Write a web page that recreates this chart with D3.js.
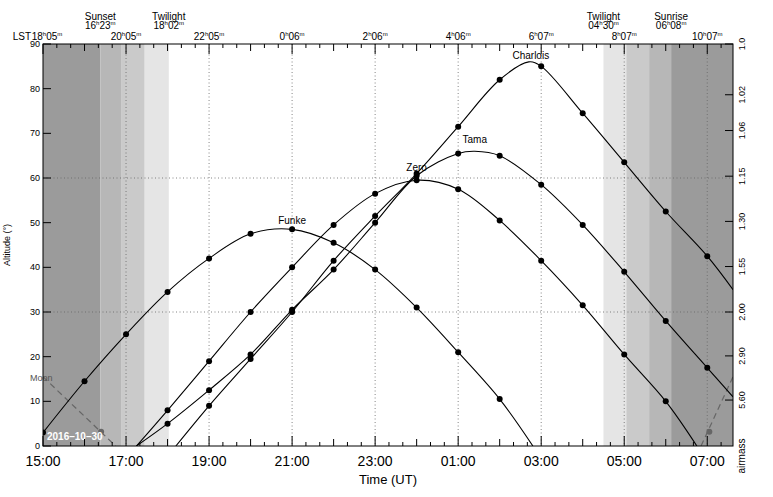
<!DOCTYPE html>
<html><head><meta charset="utf-8">
<script src="https://cdn.jsdelivr.net/npm/d3@7"></script>
<style>body{margin:0;background:#fff}svg{font-family:"Liberation Sans",Arial,sans-serif}</style>
</head><body><div id="viz"></div>
<script>
// hours since 15:00 UT, altitude in degrees
const charlois = [[3.2,0],[4,9],[5,19.5],[6,30],[7,41.5],[8,51.5],[9,61],[10,71.5],[11,82],[11.7,86],[12,85],[13,74.5],[14,63.5],[15,52.5],[16,42.5],[16.62,35]];
const tama = [[2.25,0],[3,5],[4,12.5],[5,20.5],[6,30.5],[7,39.5],[8,50],[9,60.5],[10,65.5],[10.4,66],[11,65],[12,58.5],[13,49.5],[14,39],[15,28],[16,17.5],[16.62,11]];
const zero = [[2.25,0],[3,8],[4,19],[5,30],[6,40],[7,49.5],[8,56.5],[9,59.5],[10,57.5],[11,50.5],[12,41.5],[13,31.5],[14,20.5],[15,10],[15.75,0]];
const funke = [[0,3],[1,14.5],[2,25],[3,34.5],[4,42],[5,47.5],[6,48.5],[7,45.5],[8,39.5],[9,31],[10,21],[11,10.5],[11.8,0]];
const moonA = [[0,15.5],[1.75,0]];
const moonB = [[15.85,0],[16.62,15.5]];
const targets = [
  {name:"Charlois", pts:charlois, lab:[11.75,86.7]},
  {name:"Tama", pts:tama, lab:[10.4,67.8]},
  {name:"Zero", pts:zero, lab:[9,61.5]},
  {name:"Funke", pts:funke, lab:[6,49.8]}
];
// shading bands [from,to,colour]
const bands = [[0,1.38,"#9b9b9b"],[1.38,1.88,"#b7b7b7"],[1.88,2.45,"#cacaca"],[2.45,3.03,"#e5e5e5"],
               [13.5,14.05,"#e5e5e5"],[14.05,14.6,"#cacaca"],[14.6,15.13,"#b7b7b7"],[15.13,16.62,"#9b9b9b"]];
const utLabels = ["15:00","17:00","19:00","21:00","23:00","01:00","03:00","05:00","07:00"];
const lstLabels = [["18","05"],["20","05"],["22","05"],["0","06"],["2","06"],["4","06"],["6","07"],["8","07"],["10","07"]];
const sunEvents = [[1.38,"Sunset","16","23"],[3.03,"Twilight","18","02"],[13.5,"Twilight","04","30"],[15.13,"Sunrise","06","08"]];
const airmass = ["1.0","1.02","1.06","1.15","1.30","1.55","2.00","2.90","5.60"];

const W=773,H=497, m={l:43,r:40,t:44,b:51};
const svg=d3.select("#viz").append("svg").attr("width",W).attr("height",H);
const x=d3.scaleLinear().domain([0,16.62]).range([m.l,W-m.r]);
const y=d3.scaleLinear().domain([0,90]).range([H-m.b,m.t]);
const g=svg.append("g");
g.append("defs").append("clipPath").attr("id","c").append("rect")
 .attr("x",m.l).attr("y",m.t).attr("width",x.range()[1]-m.l).attr("height",y(0)-m.t);

g.selectAll(".band").data(bands).enter().append("rect")
 .attr("x",d=>x(d[0])).attr("width",d=>x(d[1])-x(d[0])).attr("y",m.t).attr("height",y(0)-m.t).attr("fill",d=>d[2]);

// grid
utLabels.forEach((_,i)=>{ if(i>0) g.append("line").attr("x1",x(i*2)).attr("x2",x(i*2)).attr("y1",m.t).attr("y2",y(0))
 .attr("stroke","#666").attr("stroke-width",0.8).attr("stroke-dasharray","1,2.5");});
[30,60].forEach(v=>g.append("line").attr("x1",m.l).attr("x2",x.range()[1]).attr("y1",y(v)).attr("y2",y(v))
 .attr("stroke","#666").attr("stroke-width",0.8).attr("stroke-dasharray","1,2.5"));

const line=d3.line().x(d=>x(d[0])).y(d=>y(d[1])).curve(d3.curveCatmullRom);
const plot=g.append("g").attr("clip-path","url(#c)");
[moonA,moonB].forEach(p=>plot.append("path").attr("d",line(p)).attr("fill","none").attr("stroke","#666").attr("stroke-width",1.2).attr("stroke-dasharray","6,4"));
[[1.4,3.2],[16.05,3.2]].forEach(p=>plot.append("circle").attr("cx",x(p[0])).attr("cy",y(p[1])).attr("r",3).attr("fill","#666"));
targets.forEach(t=>{
  plot.append("path").attr("d",line(t.pts)).attr("fill","none").attr("stroke","#000").attr("stroke-width",1.1);
  plot.selectAll(null).data(t.pts.filter(d=>Number.isInteger(d[0]))).enter().append("circle")
   .attr("cx",d=>x(d[0])).attr("cy",d=>y(d[1])).attr("r",3).attr("fill","#000");
  g.append("text").attr("x",x(t.lab[0])).attr("y",y(t.lab[1])).attr("text-anchor","middle").attr("font-size",10).text(t.name);
});
g.append("text").attr("x",30).attr("y",y(15.5)+4).attr("font-size",9).attr("fill","#555").text("Moon");
g.append("text").attr("x",x(0)+4).attr("y",y(0)-6).attr("font-size",10).attr("font-weight","bold").attr("fill","#fff").text("2016–10–30");

// frame
g.append("rect").attr("x",m.l).attr("y",m.t).attr("width",x.range()[1]-m.l).attr("height",y(0)-m.t).attr("fill","none").attr("stroke","#000");

// ticks
const minor=d3.range(0,16.62,1/3);
minor.forEach(h=>{
  const major=Math.abs(h-Math.round(h))<1e-6, L=major?(Math.round(h)%2===0?10:7):4;
  g.append("line").attr("x1",x(h)).attr("x2",x(h)).attr("y1",y(0)).attr("y2",y(0)-L).attr("stroke","#000");
  g.append("line").attr("x1",x(h)).attr("x2",x(h)).attr("y1",m.t).attr("y2",m.t+L).attr("stroke","#000");
});
d3.range(0,91,10).forEach(v=>{
  g.append("line").attr("x1",m.l).attr("x2",m.l+8).attr("y1",y(v)).attr("y2",y(v)).attr("stroke","#000");
  g.append("text").attr("x",m.l-3).attr("y",y(v)+3).attr("text-anchor","end").attr("font-size",9).text(v);
});
utLabels.forEach((s,i)=>g.append("text").attr("x",x(i*2)).attr("y",y(0)+20).attr("text-anchor","middle").attr("font-size",14).text(s));
g.append("text").attr("x",(m.l+x.range()[1])/2).attr("y",H-13).attr("text-anchor","middle").attr("font-size",13).text("Time (UT)");
g.append("text").attr("transform",`translate(10,${(m.t+y(0))/2}) rotate(-90)`).attr("text-anchor","middle").attr("font-size",9).text("Altitude (°)");

function hm(sel,hh,mm){sel.append("tspan").text(hh);sel.append("tspan").attr("font-size",6).attr("dy",-4).text("h");
 sel.append("tspan").attr("dy",4).text(mm);sel.append("tspan").attr("font-size",6).attr("dy",-4).text("m");}
lstLabels.forEach((l,i)=>{const t=g.append("text").attr("x",x(i*2)+(i===0?4:0)).attr("y",m.t-4).attr("text-anchor","middle").attr("font-size",10);hm(t,l[0],l[1]);});
g.append("text").attr("x",x(0)-12).attr("y",m.t-4).attr("text-anchor","end").attr("font-size",10).text("LST");
sunEvents.forEach(e=>{
  g.append("text").attr("x",x(e[0])).attr("y",m.t-24).attr("text-anchor","middle").attr("font-size",10).text(e[1]);
  const t=g.append("text").attr("x",x(e[0])).attr("y",m.t-15).attr("text-anchor","middle").attr("font-size",10);hm(t,e[2],e[3]);
});
// airmass axis
const xr=x.range()[1];
airmass.forEach(a=>{
  const X=+a, alt=X<=1?90:90-Math.acos(1/X)*180/Math.PI;
  g.append("line").attr("x1",xr).attr("x2",xr-8).attr("y1",y(alt)).attr("y2",y(alt)).attr("stroke","#000");
  g.append("text").attr("transform",`translate(${xr+12},${y(alt)}) rotate(-90)`).attr("text-anchor","middle").attr("font-size",9).text(a);
});
g.append("text").attr("transform",`translate(${xr+12},${y(0)+10}) rotate(-90)`).attr("text-anchor","middle").attr("font-size",10).text("airmass");
</script></body></html>
